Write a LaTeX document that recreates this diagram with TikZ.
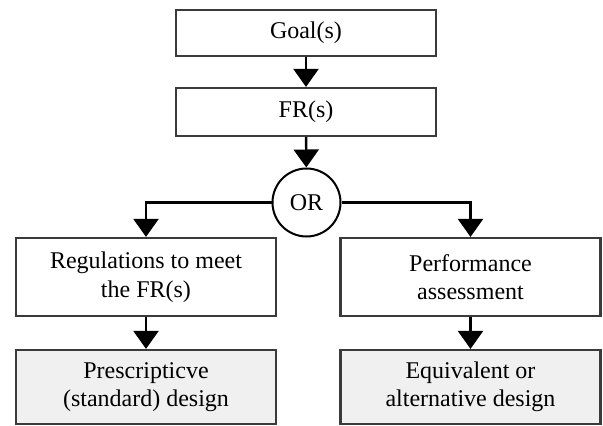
\documentclass[tikz,border=0pt]{standalone}
\usepackage{fontspec}
\setmainfont{Liberation Serif}
\usepackage{xcolor}
\usepackage{tikz}
\usetikzlibrary{arrows.meta,shapes.geometric,positioning,calc}

\definecolor{boxline}{HTML}{3A3A3A}
\definecolor{boxgray}{HTML}{F0F0F0}

\begin{document}
\begin{tikzpicture}[x=1pt,y=-1pt,
		box/.style={draw=boxline, line width=2.2pt, minimum width=260pt, align=center, font=\fontsize{24}{28.5}\selectfont},
		endbox/.style={box, fill=boxgray},
		arr/.style={line width=2.4pt, -{Triangle[length=18pt,width=25pt]}}]
		\useasboundingbox (0,0) rectangle (603,426);

		\node[box, minimum height=46pt] (goal) at (306,33) {Goal(s)};
		\node[box, minimum height=48pt] (fr) at (306,112) {FR(s)};
		\node[draw, circle, line width=2pt, minimum size=68pt, inner sep=0pt, font=\fontsize{24}{28}\selectfont] (or) at (306.5,202.5) {OR};

		\node[box, minimum height=78pt] (reg) at (146,277) {Regulations to meet\\the FR(s)};
		\node[box, minimum height=78pt] (perf) at (470.5,277) {Performance\\assessment};

		\node[endbox, minimum height=74pt] (presc) at (146,387) {Prescripticve\\(standard) design};
		\node[endbox, minimum height=74pt] (equiv) at (470.5,387) {Equivalent or\\alternative design};

		\draw[arr] (goal) -- (fr);
		\draw[arr] (fr) -- (or);
		\draw[arr] (or.west) -| (reg.north);
		\draw[arr] (or.east) -| (perf.north);
		\draw[arr] (reg) -- (presc);
		\draw[arr] (perf) -- (equiv);
	\end{tikzpicture}
\end{document}
